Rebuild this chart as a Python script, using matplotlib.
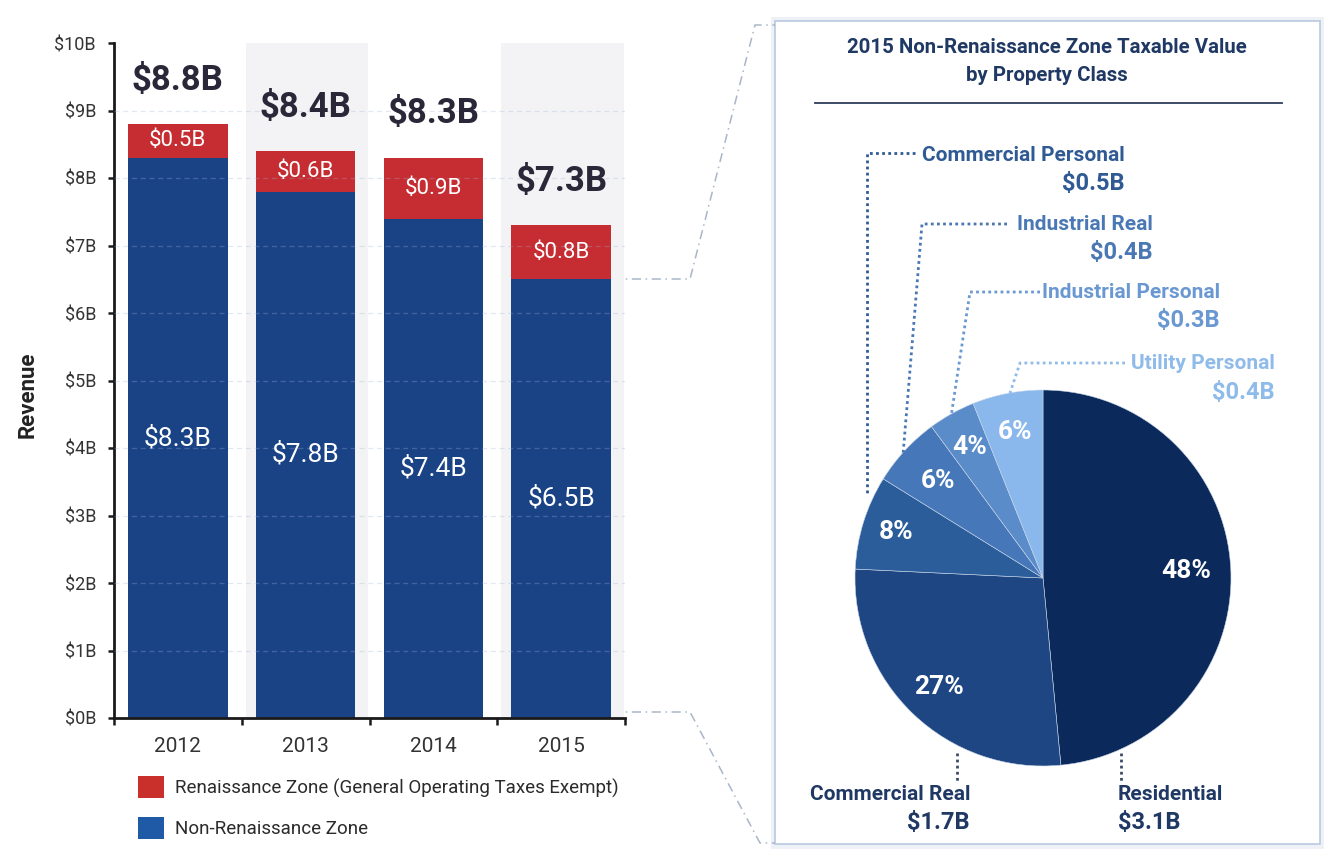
import matplotlib
matplotlib.use('Agg')
import matplotlib.pyplot as plt
from matplotlib.patches import Rectangle, Patch
from matplotlib import font_manager
import numpy as np

# ---------------- data ----------------
years = ['2012', '2013', '2014', '2015']
non_rz = [8.3, 7.8, 7.4, 6.5]
rz = [0.5, 0.6, 0.9, 0.8]
totals = [8.8, 8.4, 8.3, 7.3]
ytick_vals = list(range(0, 11))
ytick_labels = [f'${v}B' for v in ytick_vals]
legend_labels = ['Renaissance Zone (General Operating Taxes Exempt)', 'Non-Renaissance Zone']

pie_classes = ['Residential', 'Commercial Real', 'Commercial Personal',
               'Industrial Real', 'Industrial Personal', 'Utility Personal']
pie_pct = [48, 27, 8, 6, 4, 6]
pie_values = ['$3.1B', '$1.7B', '$0.5B', '$0.4B', '$0.3B', '$0.4B']
pie_title = ['2015 Non-Renaissance Zone Taxable Value', 'by Property Class']

# ---------------- style ----------------
names = {f.name for f in font_manager.fontManager.ttflist}
COND = 'Liberation Sans Narrow' if 'Liberation Sans Narrow' in names else 'Roboto'
plt.rcParams['font.family'] = [COND, 'DejaVu Sans']

RED = '#c62d32'
BLUE = '#1a4386'
LEG_RED = '#c9302c'
LEG_BLUE = '#1f5aa6'
NAVY = '#1f3864'
pie_colors = ['#0b2a5b', '#1d4682', '#2c5d9b', '#4677b8', '#5a8cc9', '#8ab8ec']
label_colors = [NAVY, NAVY, '#2f5a94', '#4a78b4', '#6a98d2', '#8fbbea']

W, H = 1330, 850
fig = plt.figure(figsize=(W / 100, H / 100), dpi=100)
fig.patch.set_facecolor('white')


def fx(x):
    return x / W


def fy(y):
    return 1 - y / H


# ---------------- background overlay ----------------
bg = fig.add_axes([0, 0, 1, 1], zorder=0)
bg.set_xlim(0, W)
bg.set_ylim(H, 0)
bg.axis('off')
bg.add_patch(Rectangle((771, 17), 553, 832, facecolor='#eef1f6', edgecolor='none'))
bg.add_patch(Rectangle((775, 21), 545, 823, facecolor='white', edgecolor='#b9c9e2', lw=1.2))
conn_kw = dict(color='#a9b6c9', lw=1.1, ls=(0, (6, 3, 1, 3)))
bg.plot([612, 690, 755, 775], [279, 279, 25, 25], **conn_kw)
bg.plot([612, 690, 760, 775], [712, 712, 843, 843], **conn_kw)

# ---------------- bar chart ----------------
ax = fig.add_axes([fx(114), fy(718), (625 - 114) / W, (718 - 43) / H], zorder=2)
ax.set_facecolor('none')
x = np.arange(len(years))
ax.set_xlim(-0.5, len(years) - 0.5)
ax.set_ylim(0, 10)

for i in (1, 3):
    ax.axvspan(i - 0.47, i + 0.49, ymin=0, ymax=1, color='#f3f3f5', zorder=0, lw=0)

ax.bar(x, non_rz, width=0.78, color=BLUE, zorder=2)
ax.bar(x, rz, width=0.78, bottom=non_rz, color=RED, zorder=2)

for v in ytick_vals[1:-1]:
    ax.axhline(v, color='#9db3d6', alpha=0.3, lw=0.9, ls=(0, (4, 3)), zorder=3)

for i in range(len(years)):
    ax.text(x[i], non_rz[i] / 2, f'${non_rz[i]}B', ha='center', va='center',
            color='white', fontsize=19, zorder=4)
    ax.text(x[i], non_rz[i] + rz[i] / 2, f'${rz[i]}B', ha='center', va='center',
            color='white', fontsize=16, zorder=4)
    ax.text(x[i], totals[i] + 0.65, f'${totals[i]}B', ha='center', va='center',
            color='#2a2838', fontsize=25, fontweight='bold', zorder=4)

for s in ('top', 'right'):
    ax.spines[s].set_visible(False)
for s in ('left', 'bottom'):
    ax.spines[s].set_color('#1a1a1a')
    ax.spines[s].set_linewidth(2)

ax.set_yticks(ytick_vals)
ax.set_yticklabels(ytick_labels)
ax.tick_params(axis='y', length=4, width=1.8, color='#1a1a1a', pad=9,
               labelsize=13, labelcolor='#333333')
ax.set_xticks(np.arange(-0.5, len(years)), [''] * (len(years) + 1))
ax.set_xticks(x, years, minor=True)
ax.tick_params(axis='x', which='major', length=5, width=1.8, color='#1a1a1a')
ax.tick_params(axis='x', which='minor', length=0, pad=14, labelsize=15, labelcolor='#333333')

fig.text(fx(28), fy(395), 'Revenue', rotation=90, ha='center', va='center',
         fontsize=16, fontweight='bold', color='#222222')

fig.legend(handles=[Patch(facecolor=LEG_RED), Patch(facecolor=LEG_BLUE)], labels=legend_labels,
           loc='upper left', bbox_to_anchor=(fx(138), fy(776)), frameon=False,
           fontsize=13.5, handlelength=1.4, handleheight=1.45, handletextpad=0.55,
           labelspacing=1.0, borderpad=0, borderaxespad=0, labelcolor='#2b2b2b')

# ---------------- pie ----------------
pax = fig.add_axes([fx(855), fy(766), 376 / W, 376 / H], zorder=3)
wedges, _ = pax.pie(pie_pct, colors=pie_colors, startangle=90, counterclock=False,
                    wedgeprops=dict(edgecolor='#c9d6ea', linewidth=0.4))
pax.set_xlim(-1, 1)
pax.set_ylim(-1, 1)
pct_r = [0.76, 0.80, 0.82, 0.76, 0.80, 0.79]
for w, p, r in zip(wedges, pie_pct, pct_r):
    th = np.deg2rad((w.theta1 + w.theta2) / 2)
    pax.text(r * np.cos(th), r * np.sin(th), f'{p}%', ha='center', va='center',
             color='white', fontsize=19, fontweight='bold')

# ---------------- foreground overlay ----------------
fg = fig.add_axes([0, 0, 1, 1], zorder=5)
fg.set_facecolor('none')
fg.set_xlim(0, W)
fg.set_ylim(H, 0)
fg.axis('off')

fg.text(1047, 47, pie_title[0], ha='center', va='center', fontsize=14.7,
        fontweight='bold', color=NAVY)
fg.text(1047, 75, pie_title[1], ha='center', va='center', fontsize=14.7,
        fontweight='bold', color=NAVY)
fg.plot([815, 1282], [103, 103], color='#2c3e5c', lw=1.3)

# label anchor (x, name y, value y, ha) and leader polylines
label_pos = {
    'Residential': (1118, 795, 822, 'left'),
    'Commercial Real': (970, 795, 822, 'right'),
    'Commercial Personal': (1125, 155, 183, 'right'),
    'Industrial Real': (1153, 224, 252, 'right'),
    'Industrial Personal': (1220, 292, 320, 'right'),
    'Utility Personal': (1275, 363, 392, 'right'),
}
leaders = {
    'Residential': ([1121, 1121], [753, 782]),
    'Commercial Real': ([957, 957], [753, 782]),
    'Commercial Personal': ([915, 867, 867], [153, 153, 495]),
    'Industrial Real': ([1007, 922, 903], [224, 224, 455]),
    'Industrial Personal': ([1040, 970, 951], [292, 292, 417]),
    'Utility Personal': ([1125, 1020, 1010], [363, 363, 393]),
}
for name, val, col in zip(pie_classes, pie_values, label_colors):
    lx, ny, vy, ha = label_pos[name]
    fg.text(lx, ny, name, ha=ha, va='center', fontsize=15, fontweight='bold', color=col)
    fg.text(lx, vy, val, ha=ha, va='center', fontsize=17, fontweight='bold', color=col)
    xs, ys = leaders[name]
    fg.plot(xs, ys, color=col if col != NAVY else '#3b4a66', lw=2, ls=(0, (1, 1.2)))

fig.savefig('out.png', dpi=100, facecolor='white')
